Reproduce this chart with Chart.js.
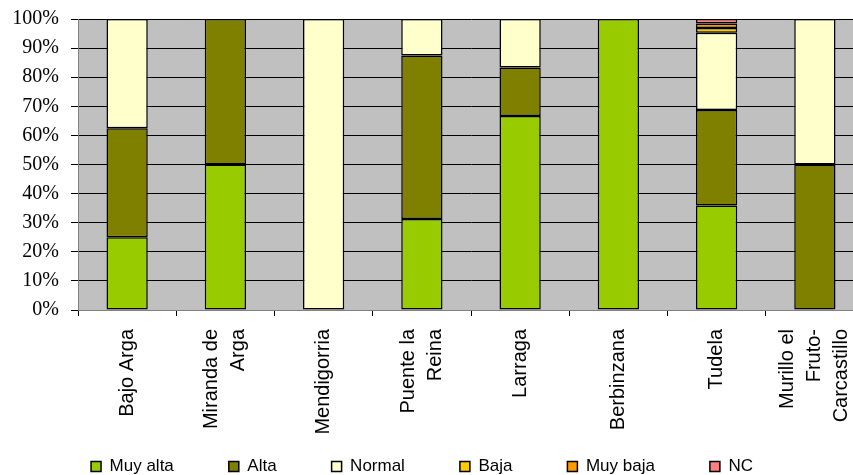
<!DOCTYPE html>
<html>
<head>
<meta charset="utf-8">
<script src="https://cdn.jsdelivr.net/npm/chart.js@4.4.1/dist/chart.umd.min.js"></script>
<style>
  html, body { margin: 0; padding: 0; overflow: hidden; background: #fff; width: 853px; height: 475px; }
  #wrap { position: absolute; left: 0; top: 0; width: 870px; height: 485px; }
</style>
</head>
<body>
<div id="wrap"><canvas id="c"></canvas></div>
<script>
const categories = [
  'Bajo Arga',
  ['Miranda de', 'Arga'],
  'Mendigorria',
  ['Puente la', 'Reina'],
  'Larraga',
  'Berbinzana',
  'Tudela',
  ['Murillo el', 'Fruto-', 'Carcastillo']
];
const muyAlta = [25, 50, null, 31.25, 66.67, 100, 35.94, null];
const alta    = [37.5, 50, null, 56.25, 16.67, null, 32.81, 50];
const normal  = [37.5, null, 100, 12.5, 16.66, null, 26.56, 50];
const baja    = [null, null, null, null, null, null, 1.56, null];
const muyBaja = [null, null, null, null, null, null, 1.56, null];
const nc      = [null, null, null, null, null, null, 1.57, null];
const yTickLabels = ['0%','10%','20%','30%','40%','50%','60%','70%','80%','90%','100%'];

const seriesNames = ['Muy alta', 'Alta', 'Normal', 'Baja', 'Muy baja', 'NC'];
const seriesData = [muyAlta, alta, normal, baja, muyBaja, nc];
const seriesColors = ['#99CC00', '#808000', '#FFFFCC', '#FFCC00', '#FF9900', '#FF8080'];

const plotBg = {
  id: 'plotBg',
  beforeDraw(chart) {
    const { ctx, chartArea } = chart;
    ctx.save();
    ctx.fillStyle = '#C0C0C0';
    ctx.fillRect(chartArea.left, chartArea.top, chartArea.right - chartArea.left, chartArea.bottom - chartArea.top);
    ctx.restore();
    if (chart.legend) { chart.legend.right = chart.legend.left + chart.legend.width - 20; }
    const xs = chart.scales.x;
    xs.bottom = chart.height;
    xs.getLabelItems().forEach(it => {
      if (it._centered) return;
      const n = Array.isArray(it.label) ? it.label.length : 1;
      it.options.translation[0] -= (n - 1) * it.font.lineHeight / 2;
      it._centered = true;
    });
  }
};

new Chart(document.getElementById('c'), {
  type: 'bar',
  data: {
    labels: categories,
    datasets: seriesNames.map((name, i) => ({
      label: name,
      data: seriesData[i],
      backgroundColor: seriesColors[i],
      borderColor: '#000000',
      borderWidth: 1.5,
      borderSkipped: false,
      barPercentage: 0.42,
      categoryPercentage: 1.0
    }))
  },
  options: {
    responsive: true,
    maintainAspectRatio: false,
    animation: false,
    events: [],
    layout: { padding: { top: 19, right: 6, left: 0, bottom: 0 } },
    plugins: {
      tooltip: { enabled: false },
      legend: {
        position: 'bottom',
        labels: {
          boxWidth: 10,
          boxHeight: 10,
          padding: 55,
          color: '#000',
          font: { family: 'Liberation Sans, Arial, sans-serif', size: 17 }
        }
      }
    },
    scales: {
      x: {
        stacked: true,
        offset: true,
        grid: { display: true, drawOnChartArea: false, drawTicks: true, tickLength: 6, color: '#000', offset: true },
        border: { display: true, color: '#808080', width: 1 },
        ticks: {
          minRotation: 90, maxRotation: 90, autoSkip: false, padding: 13,
          color: '#000',
          font: { family: 'Liberation Sans, Arial, sans-serif', size: 20, lineHeight: 1.35 }
        },
        afterFit(scale) {
          const lg = scale.chart.legend;
          scale.height = scale.chart.height - 310 - (lg ? lg.height : 0);
          scale.paddingLeft = 0;
          scale.paddingRight = 0;
        }
      },
      y: {
        stacked: true,
        min: 0, max: 100,
        grid: { color: '#000', lineWidth: 1, tickLength: 7, drawTicks: true },
        border: { display: true, color: '#808080', width: 1 },
        ticks: {
          stepSize: 10, padding: 12, color: '#000',
          font: { family: 'Liberation Serif, Times New Roman, serif', size: 20 },
          callback: (v, i) => yTickLabels[i]
        },
        afterFit(scale) {
          scale.width = 78;
          scale.paddingTop = 0;
          scale.paddingBottom = 0;
        }
      }
    }
  },
  plugins: [plotBg]
});
</script>
</body>
</html>
